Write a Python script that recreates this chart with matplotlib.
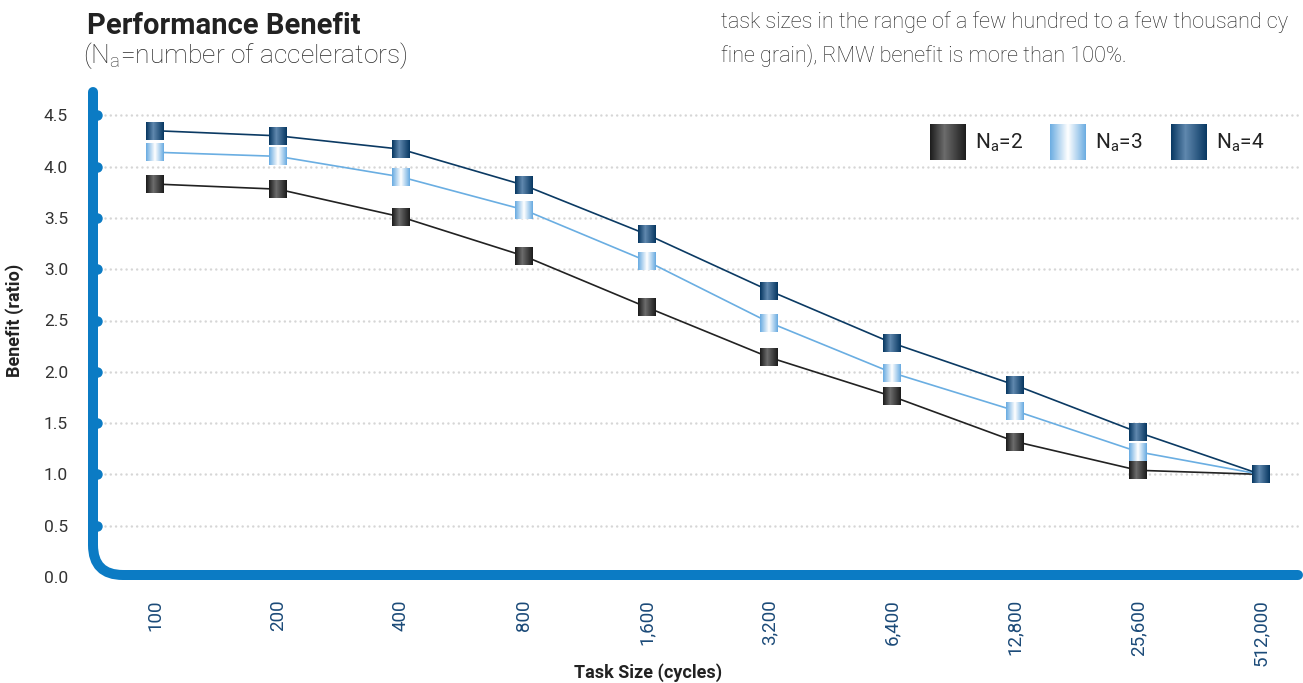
import numpy as np
import matplotlib
matplotlib.use("Agg")
import matplotlib.pyplot as plt
from matplotlib.path import Path
from matplotlib.patches import PathPatch
from matplotlib.transforms import IdentityTransform
from matplotlib.offsetbox import OffsetImage, AnnotationBbox
from matplotlib.colors import to_rgb

# ==========================
# DATA
# ==========================
task_sizes = ["100", "200", "400", "800", "1,600", "3,200",
              "6,400", "12,800", "25,600", "512,000"]
benefit_na2 = [3.83, 3.78, 3.51, 3.13, 2.63, 2.14, 1.76, 1.32, 1.04, 1.00]
benefit_na3 = [4.14, 4.10, 3.90, 3.58, 3.08, 2.48, 1.99, 1.62, 1.22, 1.00]
benefit_na4 = [4.35, 4.30, 4.17, 3.82, 3.34, 2.79, 2.28, 1.87, 1.41, 1.00]
y_ticks = [0.0, 0.5, 1.0, 1.5, 2.0, 2.5, 3.0, 3.5, 4.0, 4.5]
series_names = ["2", "3", "4"]

W, H = 1303, 683
BLUE = "#0b7bc4"

plt.rcParams["font.family"] = ["Roboto", "DejaVu Sans"]
plt.rcParams["mathtext.fontset"] = "custom"
plt.rcParams["mathtext.rm"] = "Roboto"


def gradient_square(edge, mid, pos, n):
    # horizontal shading: edge colour -> highlight -> edge colour
    e = np.array(to_rgb(edge))
    m = np.array(to_rgb(mid))
    t = np.linspace(0, 1, n)
    w = np.where(t < pos, t / pos, (1 - t) / (1 - pos))
    row = e[None, :] * (1 - w[:, None]) + m[None, :] * w[:, None]
    return np.repeat(row[None, :, :], n, axis=0)


styles = [
    dict(line="#222222", edge="#1e1e1e", mid="#6c6c6c", pos=0.4),
    dict(line="#6aaee2", edge="#6eaee2", mid="#ffffff", pos=0.5),
    dict(line="#0b3a63", edge="#0a3a64", mid="#6088ae", pos=0.4),
]
series = [benefit_na2, benefit_na3, benefit_na4]

# ==========================
# FIGURE / AXES
# ==========================
fig = plt.figure(figsize=(W / 100, H / 100), dpi=100)

px_per_cat = 122.9
px_per_unit = 102.6
x0_px, x_first = 93, 155
y0_px, top_px = 577, 90
ax = fig.add_axes([x0_px / W, (H - y0_px) / H,
                   (W - x0_px) / W, (y0_px - top_px) / H])
ax.set_xlim((x0_px - x_first) / px_per_cat, 9 + (W - 1261) / px_per_cat)
ax.set_ylim(0, (y0_px - top_px) / px_per_unit)
for s in ax.spines.values():
    s.set_visible(False)

# dotted grid lines
for yv in y_ticks[1:]:
    ax.axhline(yv, xmin=12 / 1210, xmax=1207 / 1210, color="#d6d6d6",
               lw=1.8, linestyle=(0, (0.01, 2.1)), dash_capstyle="round",
               zorder=1)

# tick dots on the left axis
ax.plot([4 / 1210] * (len(y_ticks) - 1), y_ticks[1:], "o", color=BLUE,
        ms=6.5, transform=ax.get_yaxis_transform(), clip_on=False, zorder=4)

# series lines and shaded square markers
x = np.arange(len(task_sizes))
for vals, st in zip(series, styles):
    ax.plot(x, vals, color=st["line"], lw=1.2, zorder=2)
for k, (vals, st) in enumerate(zip(series, styles)):
    img = gradient_square(st["edge"], st["mid"], st["pos"], 18)
    for xi, yi in zip(x, vals):
        ab = AnnotationBbox(OffsetImage(img, zoom=1, dpi_cor=False),
                            (xi, yi), frameon=False, pad=0,
                            box_alignment=(0.5, 0.5), zorder=3 + k)
        ax.add_artist(ab)

# ticks
ax.set_xticks(x)
ax.set_xticklabels(task_sizes, rotation=90, fontsize=13.5, color="#1b4a78")
ax.set_yticks(y_ticks)
ax.set_yticklabels([f"{v:.1f}" for v in y_ticks], fontsize=12.5,
                   color="#333333")
ax.tick_params(axis="x", length=0, pad=16)
ax.tick_params(axis="y", length=0, pad=18)

# rounded L-shaped axis line
verts = [(93, H - 92), (93, H - 575 + 30), (93, H - 575),
         (123, H - 575), (W - 5, H - 575)]
codes = [Path.MOVETO, Path.LINETO, Path.CURVE3, Path.CURVE3, Path.LINETO]
axis_path = PathPatch(Path(verts, codes), transform=IdentityTransform(),
                      fill=False, edgecolor=BLUE, lw=7.2, capstyle="round",
                      joinstyle="round", zorder=10)
fig.add_artist(axis_path)

# axis labels
fig.text(648 / W, (H - 673) / H, "Task Size (cycles)", ha="center",
         va="center", fontsize=13, fontweight="bold", color="#222222")
fig.text(15 / W, (H - 320) / H, "Benefit (ratio)", ha="center",
         va="center", rotation=90, fontsize=13, fontweight="bold",
         color="#222222")

# legend
legend_x = [930, 1050, 1171]
for lx, name, st in zip(legend_x, series_names, styles):
    img = gradient_square(st["edge"], st["mid"], st["pos"], 36)
    ab = AnnotationBbox(OffsetImage(img, zoom=1, dpi_cor=False),
                        (lx + 18, H - 142), xycoords="figure pixels",
                        frameon=False, pad=0, box_alignment=(0.5, 0.5))
    fig.add_artist(ab)
    fig.text((lx + 45) / W, (H - 143) / H,
             r"N$_\mathregular{a}$=" + name, fontsize=15, va="center",
             color="#222222")

# titles and notes
fig.text(87 / W, (H - 34) / H, "Performance Benefit", fontsize=21,
         fontweight="bold", color="#222222", va="baseline")
fig.text(83 / W, (H - 63) / H,
         r"(N$_\mathregular{a}$=number of accelerators)", fontsize=19,
         fontweight="light", color="#2a2a2a", va="baseline")
fig.text(721 / W, (H - 28) / H,
         "task sizes in the range of a few hundred to a few thousand cy",
         fontsize=15.6, fontweight="light", color="#1e1e1e", va="baseline")
fig.text(721 / W, (H - 62) / H,
         "fine grain), RMW benefit is more than 100%.",
         fontsize=15.6, fontweight="light", color="#1e1e1e", va="baseline")

fig.savefig("out.png", dpi=100)
